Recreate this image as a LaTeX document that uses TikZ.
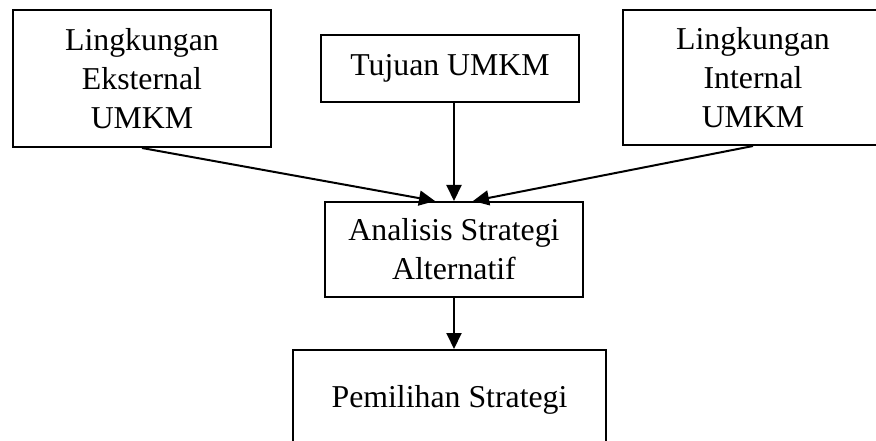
\documentclass[tikz,border=0pt]{standalone}
\usepackage{fontspec}
\setmainfont{Liberation Serif}
\usetikzlibrary{arrows.meta,calc}
\tikzset{
  box/.style={draw, line width=2pt, align=center, inner sep=0pt,
    font=\fontsize{31.8pt}{39pt}\selectfont},
  conn/.style={line width=2pt, -{Triangle[length=16pt,width=15pt]}}
}
\begin{document}
\begin{tikzpicture}[x=1pt,y=1pt]
\useasboundingbox (0,0) rectangle (876,-441);
\clip (0,0) rectangle (876,-441);
\node[box, minimum width=258pt, minimum height=137pt] (L) at (142,-78.5)
  {Lingkungan\\Eksternal\\UMKM};
\node[box, minimum width=258pt, minimum height=67pt] (T) at (450,-68.5)
  {Tujuan UMKM};
\node[box, minimum width=260pt, minimum height=135pt] (R) at (753,-77.5)
  {Lingkungan\\Internal\\UMKM};
\node[box, minimum width=258pt, minimum height=95pt] (A) at (454,-249.5)
  {Analisis Strategi\\Alternatif};
\node[box, minimum width=313pt, minimum height=100pt] (P) at (449.5,-400)
  {Pemilihan Strategi};
\draw[conn] (L.south) -- ($(A.north)+(-19,0)$);
\draw[conn] (A.north |- T.south) -- (A.north);
\draw[conn] (R.south) -- ($(A.north)+(19,0)$);
\draw[conn] (A.south) -- (A.south |- P.north);
\end{tikzpicture}
\end{document}
